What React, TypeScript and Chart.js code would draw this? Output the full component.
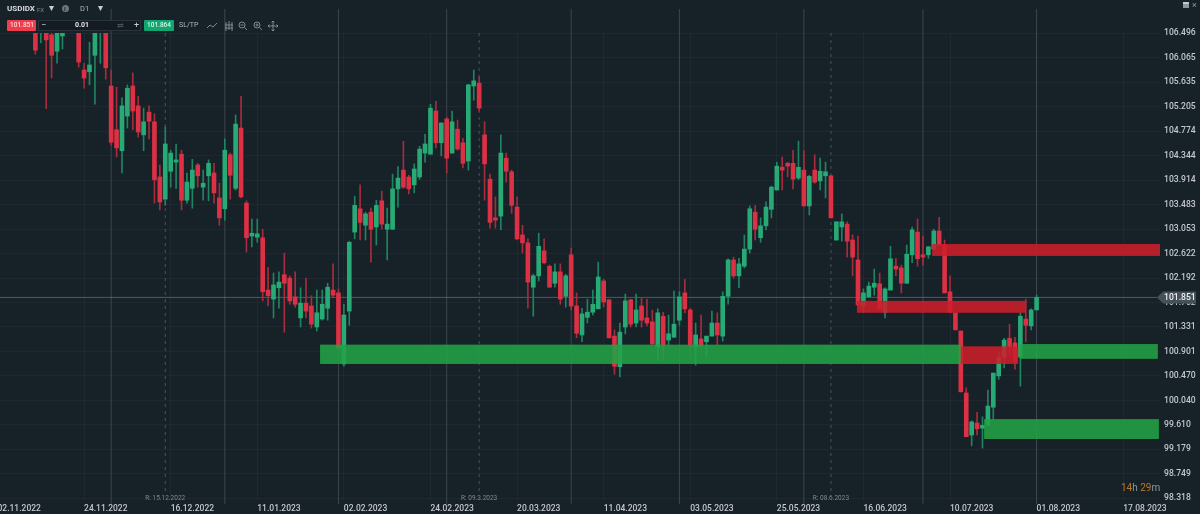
import React, { useEffect, useRef } from 'react';
import { Chart, registerables } from 'chart.js';

Chart.register(...registerables);

const firstCandle = 7;
const opens = [106.73,106.55,106.73,106.47,106.18,106.45,106.73,106.91,106.59,105.85,105.82,106.11,106.59,106.64,105.57,104.80,104.43,105.04,105.57,105.22,104.71,105.11,104.94,103.97,103.58,104.07,104.23,104.37,103.56,103.77,104.18,103.79,103.99,104.04,103.60,103.41,104.36,103.77,104.83,103.51,102.93,102.91,102.90,101.98,101.82,102.02,102.25,102.19,101.86,101.49,101.75,101.70,101.33,101.47,101.66,101.98,101.93,100.68,101.61,103.00,103.41,103.12,103.35,103.09,103.55,103.05,103.05,103.76,104.09,103.97,103.83,103.97,104.39,104.37,105.13,104.57,104.99,104.39,104.81,104.57,104.25,105.57,105.62,104.71,103.93,103.25,103.28,104.30,104.06,103.44,102.95,102.81,102.03,102.23,102.67,102.40,102.10,102.30,101.87,102.60,101.70,101.19,101.50,101.59,101.65,102.14,101.81,101.17,100.63,101.33,101.81,101.40,101.70,101.49,101.42,100.98,101.52,101.10,101.15,101.45,101.93,101.63,100.98,101.12,101.07,101.17,101.40,101.17,101.87,102.51,102.23,102.40,102.70,103.35,102.90,103.11,103.40,103.74,104.14,104.21,104.21,103.95,104.09,103.46,104.09,103.90,103.99,103.99,102.86,103.09,103.14,102.86,102.51,101.70,101.86,102.03,102.09,101.59,101.98,102.40,102.37,102.10,102.60,103.00,102.60,102.60,102.70,103.02,102.77,101.95,101.58,101.26,100.17,99.43,99.64,99.55,99.60,99.92,100.47,100.80,101.13,101.05,100.80,101.47,101.35,101.63];
const highs = [106.82,106.82,106.73,106.55,106.64,106.64,106.94,106.98,106.69,105.97,106.34,106.73,106.82,106.73,105.85,105.55,105.36,105.59,105.80,105.39,105.18,105.22,105.08,104.18,104.85,104.44,104.55,104.44,104.04,104.28,104.21,104.09,104.27,104.21,103.86,104.64,104.39,105.06,105.39,103.55,103.23,103.23,103.05,102.38,102.28,102.30,102.63,102.23,102.30,102.02,102.19,101.88,101.98,101.98,102.10,102.44,102.00,101.73,102.84,103.63,103.83,103.35,103.42,103.56,103.72,103.42,104.02,104.15,104.60,104.00,104.20,104.51,104.72,105.25,105.30,104.92,105.02,105.13,104.97,104.65,105.60,105.85,105.73,104.94,104.02,103.62,104.71,104.39,104.09,103.62,103.12,102.88,102.26,102.98,102.88,102.42,102.44,102.44,102.26,102.72,101.93,101.66,101.82,101.98,102.47,102.17,101.81,101.28,101.40,101.91,101.82,101.91,101.84,101.82,101.63,101.65,101.59,101.54,101.96,101.95,102.17,101.66,101.40,101.54,101.17,101.61,101.58,101.95,102.53,102.56,102.54,102.95,103.46,103.47,103.25,103.53,103.81,104.23,104.32,104.23,104.44,104.60,104.43,104.00,104.36,104.30,104.23,104.00,103.18,103.32,103.18,102.95,102.93,102.00,102.12,102.35,102.28,102.02,102.75,102.54,102.42,102.77,103.09,103.23,102.93,102.75,103.05,103.26,102.86,102.23,101.58,101.26,100.26,99.68,99.83,99.75,100.22,100.52,100.89,101.13,101.38,101.15,101.58,101.82,101.65,101.89];
const lows = [106.13,106.33,105.17,105.71,105.97,106.22,106.62,106.55,105.90,105.53,105.59,105.25,105.97,105.69,104.53,104.32,104.04,104.83,104.80,104.67,104.43,104.64,103.51,103.39,103.47,103.79,103.77,103.39,103.51,103.42,103.79,103.56,103.55,103.51,103.12,103.21,103.58,103.74,103.60,102.65,102.74,102.82,101.79,101.70,101.49,101.66,101.24,101.73,101.68,101.33,101.49,101.31,101.26,101.45,101.45,101.84,100.89,100.64,101.36,102.88,102.86,102.86,102.47,102.77,103.05,102.51,103.05,103.44,103.77,103.67,103.69,103.93,104.23,104.37,104.48,104.34,104.04,104.39,104.44,104.13,104.09,105.32,105.13,103.56,103.07,103.07,103.04,103.88,103.33,102.86,102.63,101.66,101.52,102.14,102.44,102.03,102.03,101.73,101.68,101.63,101.14,101.07,101.40,101.54,101.65,101.68,101.14,100.50,100.45,101.21,101.33,101.33,101.33,101.35,101.03,100.75,100.73,101.01,101.15,101.36,101.58,100.87,100.66,100.98,100.80,101.17,101.01,101.08,101.73,102.19,102.02,102.37,102.63,102.86,102.82,103.04,103.25,103.74,103.74,103.97,103.76,103.92,103.46,103.30,103.86,103.74,103.60,103.25,102.86,102.84,102.56,102.23,101.70,101.59,101.86,101.89,101.63,101.49,101.98,102.23,101.93,102.10,102.46,102.40,102.42,102.54,102.70,102.77,101.93,101.59,101.28,100.19,99.40,99.24,99.43,99.20,99.60,99.71,100.41,100.61,100.80,100.59,100.29,101.07,101.28,101.63];
const closes = [106.20,106.73,106.38,106.11,106.59,106.55,106.87,106.66,105.99,105.71,105.94,106.64,106.73,105.89,104.58,104.48,105.22,105.53,105.13,104.76,104.94,104.95,103.92,103.53,104.55,104.39,104.27,103.56,103.88,104.09,103.99,103.86,104.21,103.69,103.25,104.44,104.00,104.90,103.62,102.90,102.98,102.97,101.95,101.88,102.07,102.12,102.10,101.79,101.73,101.75,101.61,101.38,101.58,101.73,102.03,101.89,100.96,101.54,102.82,103.47,103.17,103.32,103.05,103.47,103.14,103.14,103.76,103.95,103.79,103.76,104.11,104.46,104.55,105.18,104.57,104.92,104.30,104.94,104.46,104.21,105.59,105.66,105.18,104.20,103.17,103.21,104.39,104.07,103.47,102.88,102.81,102.12,102.23,102.75,102.46,102.03,102.30,101.82,102.23,101.70,101.22,101.56,101.59,101.73,102.21,101.77,101.14,100.64,101.24,101.79,101.38,101.63,101.45,101.40,101.03,101.58,101.01,101.21,101.38,101.86,101.65,101.01,101.19,101.01,101.17,101.40,101.19,101.87,102.51,102.23,102.44,102.70,103.41,103.05,103.11,103.44,103.79,104.16,104.09,104.16,103.93,104.14,103.46,103.98,103.88,104.07,104.06,103.25,103.18,103.18,102.84,102.56,101.72,101.93,102.05,102.10,101.65,102.00,102.53,102.35,102.10,102.61,103.04,102.53,102.56,102.74,103.02,102.77,101.93,101.59,101.28,100.19,99.40,99.66,99.54,99.60,99.94,100.52,100.80,101.10,100.98,100.73,101.52,101.36,101.63,101.85];

const priceTicks = [106.496,106.065,105.635,105.205,104.774,104.344,103.914,103.483,103.053,102.622,102.192,101.762,101.331,100.901,100.470,100.040,99.610,99.179,98.749,98.318];
const dateTicks = ['02.11.2022','24.11.2022','16.12.2022','11.01.2023','02.02.2023','24.02.2023','20.03.2023','11.04.2023','03.05.2023','25.05.2023','16.06.2023','10.07.2023','01.08.2023','17.08.2023'];
const dateStep = 16;

const monthStarts = [21,42,63,83,106,126,149,171,192];
const rollovers = [31,89,154];
const rolloverLabels = ['R: 15.12.2022','R: 09.3.2023','R: 08.6.2023'];

const lastPrice = 101.851;
const askPrice = 101.864;

// from, to, top price, bottom price
const greenZones = [
  [59.6,178,101.02,100.68],
  [188.9,214.4,101.03,100.77],
  [182.3,214.6,99.71,99.36],
];
const redZones = [
  [172.7,214.8,102.79,102.58],
  [158.8,190,101.79,101.58],
  [178,188.6,100.99,100.68],
];

const BG = '#172128';
const UP = '#27aa75';
const DOWN = '#dc3044';
const UP_WICK = '#1f8461';
const DOWN_WICK = '#a52d3e';

const indexes = opens.map((_, i) => i + firstCandle);

const overlayPlugin = {
  id: 'overlay',
  beforeDatasetsDraw(chart: any) {
    const { ctx, chartArea, scales } = chart;
    ctx.save();
    ctx.lineWidth = 1;
    ctx.strokeStyle = 'rgba(135,145,155,0.32)';
    monthStarts.forEach((m) => {
      const x = scales.x.getPixelForValue(m);
      ctx.beginPath();
      ctx.moveTo(x, 9);
      ctx.lineTo(x, 504);
      ctx.stroke();
    });
    ctx.setLineDash([3, 4]);
    ctx.strokeStyle = 'rgba(135,145,155,0.45)';
    rollovers.forEach((r) => {
      const x = scales.x.getPixelForValue(r);
      ctx.beginPath();
      ctx.moveTo(x, 33);
      ctx.lineTo(x, 491);
      ctx.stroke();
    });
    ctx.setLineDash([]);
    ctx.fillStyle = '#7f8891';
    ctx.font = '6.5px Roboto';
    ctx.textAlign = 'center';
    ctx.textBaseline = 'middle';
    rollovers.forEach((r, i) => {
      ctx.fillText(rolloverLabels[i], scales.x.getPixelForValue(r), 498.5);
    });
    const py = scales.y.getPixelForValue(lastPrice);
    ctx.strokeStyle = 'rgba(150,160,170,0.45)';
    ctx.beginPath();
    ctx.moveTo(chartArea.left, py);
    ctx.lineTo(1157, py);
    ctx.stroke();
    ctx.restore();
  },
  afterDatasetsDraw(chart: any) {
    const { ctx, scales } = chart;
    const drawZone = (z: number[], color: string) => {
      const x0 = scales.x.getPixelForValue(z[0]);
      const x1 = scales.x.getPixelForValue(z[1]);
      const y0 = scales.y.getPixelForValue(z[2]);
      const y1 = scales.y.getPixelForValue(z[3]);
      ctx.fillStyle = color;
      ctx.fillRect(x0, y0, x1 - x0, y1 - y0);
    };
    ctx.save();
    greenZones.forEach((z) => drawZone(z, 'rgba(34,163,70,0.87)'));
    redZones.forEach((z) => drawZone(z, 'rgba(206,30,42,0.87)'));
    ctx.restore();
  },
  afterDraw(chart: any) {
    const { ctx, scales } = chart;
    const py = scales.y.getPixelForValue(lastPrice);
    ctx.save();
    ctx.fillStyle = '#465059';
    ctx.beginPath();
    ctx.moveTo(1157, py);
    ctx.lineTo(1163, py - 6);
    ctx.lineTo(1196, py - 6);
    ctx.lineTo(1196, py + 6);
    ctx.lineTo(1163, py + 6);
    ctx.closePath();
    ctx.fill();
    ctx.fillStyle = '#f0f2f4';
    ctx.font = '500 8.6px Roboto';
    ctx.textAlign = 'left';
    ctx.textBaseline = 'middle';
    ctx.fillText(lastPrice.toFixed(3), 1164, py + 0.5);
    ctx.restore();
  },
};

const text = (left: number, top: number, value: string, style: React.CSSProperties = {}) => (
  <div style={{ position: 'absolute', left, top, whiteSpace: 'nowrap', lineHeight: '12px', ...style }}>{value}</div>
);

const Toolbar: React.FC = () => (
  <>
    {text(7, 3, 'USDIDX', { color: '#d8dcdf', fontSize: 8, fontWeight: 700 })}
    {text(37, 4, 'FX', { color: '#7c858d', fontSize: 6 })}
    {text(49, 2, '▾', { color: '#c9ced2', fontSize: 10 })}
    <div style={{ position: 'absolute', left: 62, top: 5, width: 7, height: 7, borderRadius: 4, background: '#6b747c' }} />
    {text(64, 3, 'i', { color: '#1b242c', fontSize: 6, fontWeight: 700 })}
    {text(80, 3, 'D1', { color: '#aeb4b9', fontSize: 7.5 })}
    {text(98, 2, '▾', { color: '#c9ced2', fontSize: 10 })}

    <div style={{ position: 'absolute', left: 7, top: 20, width: 29, height: 11, background: '#ef3d4e', borderRadius: 1 }} />
    {text(10, 20, '101.851', { color: '#f7d9dc', fontSize: 6.5, fontWeight: 500, lineHeight: '11px' })}
    <div style={{ position: 'absolute', left: 38, top: 20, width: 103, height: 11, background: '#141b22', border: '1px solid #2b343c', boxSizing: 'border-box' }} />
    {text(41, 19, '−', { color: '#c9ced2', fontSize: 9 })}
    {text(75, 20, '0.01', { color: '#dfe2e5', fontSize: 7, fontWeight: 700, lineHeight: '11px' })}
    {text(117, 20, '⇄', { color: '#4c555d', fontSize: 7.5, lineHeight: '11px' })}
    {text(134, 19, '+', { color: '#c9ced2', fontSize: 9 })}
    <div style={{ position: 'absolute', left: 144, top: 20, width: 30, height: 11, background: '#11a670', borderRadius: 1 }} />
    {text(147, 20, askPrice.toFixed(3), { color: '#d8f3e8', fontSize: 6.5, fontWeight: 500, lineHeight: '11px' })}
    {text(179, 20, 'SL/TP', { color: '#aeb4b9', fontSize: 7, lineHeight: '11px' })}
    <svg width="80" height="14" style={{ position: 'absolute', left: 204, top: 19 }} fill="none" stroke="#8b939a" strokeWidth="0.9">
      <path d="M3 9 L6 6 L9 8 L13 4" />
      <path d="M22 3 V12 M25 2 V11 M28 3 V12 M21 6 H29 M21 9 H29" />
      <circle cx="38" cy="6" r="3" /><path d="M40.5 8.5 L43 11 M36.5 6 H39.5" />
      <circle cx="53" cy="6" r="3" /><path d="M55.5 8.5 L58 11 M51.5 6 H54.5 M53 4.5 V7.5" />
      <path d="M69 2 V12 M64 7 H74 M67.5 3.5 L69 2 L70.5 3.5 M67.5 10.5 L69 12 L70.5 10.5 M65.5 5.5 L64 7 L65.5 8.5 M72.5 5.5 L74 7 L72.5 8.5" />
    </svg>

    <div style={{ position: 'absolute', left: 1183, top: 2, width: 6, height: 6, background: '#8f979e', borderTop: '2px solid #c4c9cd', boxSizing: 'border-box' }} />
    {text(1192, -1, '×', { color: '#8f979e', fontSize: 9 })}

    <div style={{ position: 'absolute', left: 1121, top: 482, whiteSpace: 'nowrap', fontSize: 10, lineHeight: '12px', color: '#8f979e' }}>
      <span style={{ color: '#b9792a' }}>14</span>h <span style={{ color: '#b9792a' }}>29</span>m
    </div>
  </>
);

const App: React.FC = () => {
  const chartRef = useRef<HTMLCanvasElement>(null);

  useEffect(() => {
    if (!chartRef.current) return;
    const chart = new Chart(chartRef.current, {
      type: 'bar',
      data: {
        datasets: [
          {
            label: 'Wick',
            data: indexes.map((x, i) => ({ x, y: [lows[i], highs[i]] })),
            backgroundColor: indexes.map((_, i) => (closes[i] >= opens[i] ? UP_WICK : DOWN_WICK)),
            barThickness: 1,
            grouped: false,
            order: 2,
          },
          {
            label: 'Body',
            data: indexes.map((x, i) => ({ x, y: [opens[i], closes[i]] })),
            backgroundColor: indexes.map((_, i) => (closes[i] >= opens[i] ? UP : DOWN)),
            barThickness: 4,
            grouped: false,
            order: 1,
          },
        ] as any,
      },
      options: {
        responsive: false,
        animation: false,
        devicePixelRatio: 1,
        layout: { padding: { top: 33, left: 0, right: 0, bottom: 0 } },
        plugins: { legend: { display: false }, tooltip: { enabled: false } },
        scales: {
          x: {
            type: 'linear',
            offset: false,
            min: 0.462,
            max: 214.8,
            border: { display: false },
            grid: { offset: false, color: 'rgba(255,255,255,0.035)', drawTicks: false },
            afterBuildTicks: (scale: any) => {
              scale.ticks = dateTicks.map((_, i) => ({ value: i * dateStep }));
            },
            afterFit: (scale: any) => {
              scale.height = 14;
              scale.paddingLeft = 0;
              scale.paddingRight = 0;
            },
            ticks: {
              autoSkip: false,
              maxRotation: 0,
              align: 'start',
              padding: 4,
              color: '#c3c8cc',
              font: { family: 'Roboto', size: 8.5, weight: 500 },
              callback: (v: any) => dateTicks[Math.round(Number(v) / dateStep)],
            },
          },
          y: {
            position: 'right',
            min: 98.287,
            max: 106.502,
            border: { display: false },
            grid: { color: 'rgba(255,255,255,0.035)', drawTicks: false },
            afterBuildTicks: (scale: any) => {
              scale.ticks = priceTicks.map((value) => ({ value }));
            },
            afterFit: (scale: any) => {
              scale.width = 40;
            },
            ticks: {
              autoSkip: false,
              padding: 4,
              color: '#c3c8cc',
              font: { family: 'Roboto', size: 8.6, weight: 500 },
              callback: (v: any) => Number(v).toFixed(3),
            },
          },
        },
      } as any,
      plugins: [overlayPlugin],
    });
    return () => chart.destroy();
  }, []);

  return (
    <div style={{ position: 'absolute', left: 0, top: 0, width: 1200, height: 514, background: BG, overflow: 'hidden', fontFamily: 'Roboto' }}>
      <canvas ref={chartRef} width={1200} height={514} style={{ display: 'block' }} />
      <Toolbar />
    </div>
  );
};

export default App;
